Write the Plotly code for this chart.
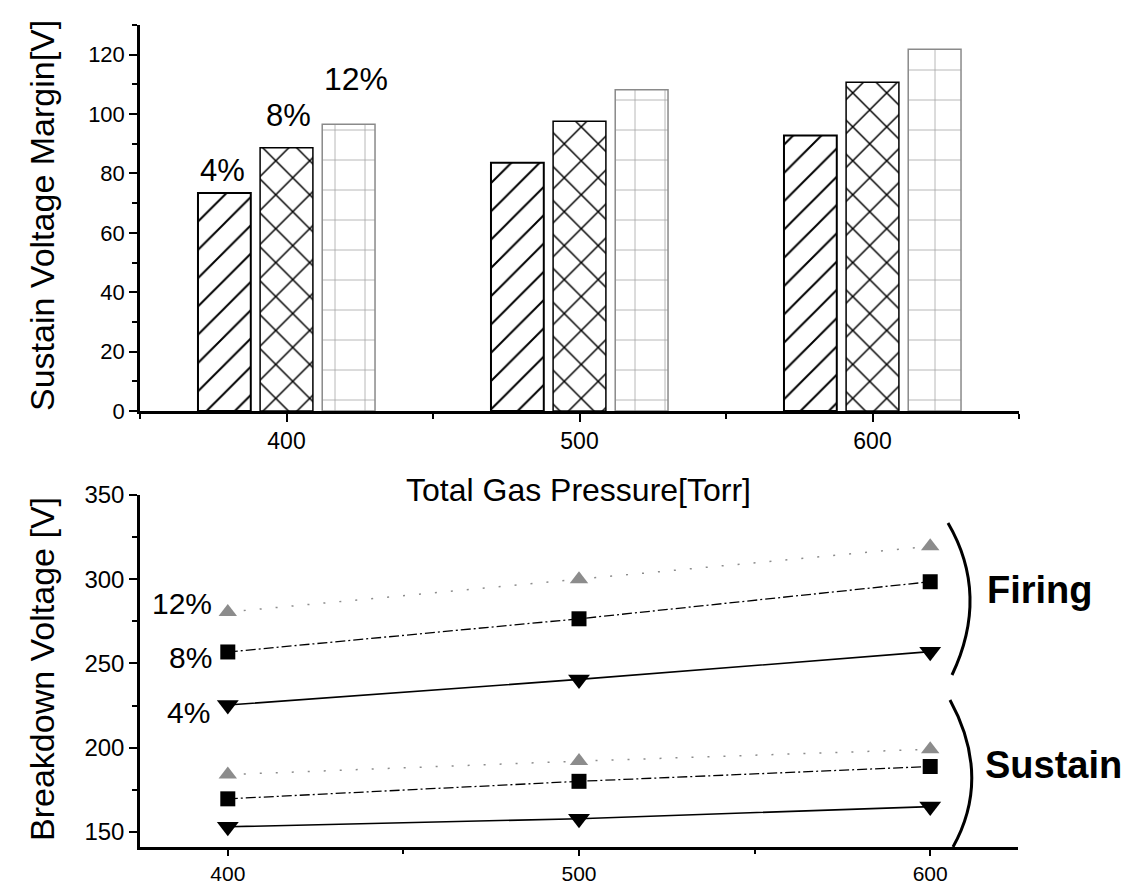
import plotly.graph_objects as go

# ---- data ----
pressure = [400, 500, 600]
margin_4 = [73.4, 83.6, 92.8]
margin_8 = [88.7, 97.6, 110.7]
margin_12 = [96.6, 108.2, 121.8]

firing_4 = [225.3, 240.5, 257.0]
firing_8 = [256.8, 276.5, 298.5]
firing_12 = [280.5, 300.0, 319.5]
sustain_4 = [153.0, 157.8, 165.0]
sustain_8 = [169.6, 180.0, 188.8]
sustain_12 = [184.0, 192.0, 199.0]

pct_labels = ["4%", "8%", "12%"]

W, H = 1144, 887
FONT = "Liberation Sans, Arial, sans-serif"


def px(x):
    return x / W


def py(y):
    return 1 - y / H


fig = go.Figure()

# ---- top bar chart ----
fig.add_trace(go.Bar(
    x=pressure, y=margin_4, name="4%", xaxis="x", yaxis="y",
    marker=dict(color="white", line=dict(color="black", width=2),
                pattern=dict(shape="/", fgcolor="black", bgcolor="white",
                             size=20, solidity=0.1, fillmode="replace")),
))
fig.add_trace(go.Bar(
    x=pressure, y=margin_8, name="8%", xaxis="x", yaxis="y",
    marker=dict(color="white", line=dict(color="black", width=1.5),
                pattern=dict(shape="x", fgcolor="black", bgcolor="white",
                             size=24, solidity=0.12, fillmode="replace")),
))
fig.add_trace(go.Bar(
    x=pressure, y=margin_12, name="12%", xaxis="x", yaxis="y",
    marker=dict(color="white", line=dict(color="#8a8a8a", width=1.5),
                pattern=dict(shape="+", fgcolor="#a0a0a0", bgcolor="white",
                             size=30, solidity=0.05, fillmode="replace")),
))

# ---- bottom line chart ----
def add_series(yvals, symbol, color, size, dash, lwidth):
    fig.add_trace(go.Scatter(
        x=pressure, y=yvals, mode="lines+markers", xaxis="x2", yaxis="y2",
        line=dict(color=color, width=lwidth, dash=dash),
        marker=dict(symbol=symbol, color=color, size=size, line=dict(width=0)),
    ))

gray = "#8c8c8c"
add_series(firing_12, "triangle-up", gray, 16, "2px,14px", 1.5)
add_series(firing_8, "square", "black", 15, "10px,3px,2px,3px", 1.3)
add_series(firing_4, "triangle-down", "black", 19, "solid", 1.6)
add_series(sustain_12, "triangle-up", gray, 16, "2px,14px", 1.5)
add_series(sustain_8, "square", "black", 15, "10px,3px,2px,3px", 1.3)
add_series(sustain_4, "triangle-down", "black", 19, "solid", 1.6)

axis_common = dict(
    showgrid=False, zeroline=False, showline=True, linecolor="black",
    linewidth=2.5, ticks="outside", tickwidth=2, tickcolor="black",
    mirror=False, automargin=False,
)

fig.update_layout(
    width=W, height=H,
    margin=dict(l=0, r=0, t=0, b=0),
    paper_bgcolor="white", plot_bgcolor="white",
    showlegend=False,
    barmode="group", bargap=0.364, bargroupgap=0.15,
    font=dict(family=FONT, color="black"),
    xaxis=dict(**axis_common, ticklen=8, domain=[px(140), px(1019)], range=[350, 650],
               tick0=400, dtick=100, anchor="y",
               tickfont=dict(size=23, family=FONT),
               minor=dict(dtick=50, ticklen=5, tickwidth=2, tickcolor="black", ticks="outside")),
    yaxis=dict(**axis_common, ticklen=8, domain=[py(411), py(25)], range=[0, 130],
               tick0=0, dtick=20, anchor="x",
               tickfont=dict(size=22, family=FONT),
               minor=dict(dtick=10, ticklen=5, tickwidth=2, tickcolor="black", ticks="outside")),
    xaxis2=dict(**axis_common, ticklen=6, domain=[px(140), px(1018)], range=[375, 625],
                tick0=400, dtick=100, anchor="y2",
                tickfont=dict(size=21, family=FONT),
                minor=dict(dtick=50, ticklen=4, tickwidth=2, tickcolor="black", ticks="outside")),
    yaxis2=dict(**axis_common, ticklen=8, domain=[py(847), py(495)], range=[141, 350],
                tick0=150, dtick=50, anchor="x2",
                tickfont=dict(size=24, family=FONT),
                minor=dict(dtick=25, ticklen=5, tickwidth=2, tickcolor="black", ticks="outside")),
)

annotations = [
    dict(text="Sustain Voltage Margin[V]", x=px(42), y=py(216), textangle=-90,
         font=dict(size=34)),
    dict(text="Total Gas Pressure[Torr]", x=px(578), y=py(490), font=dict(size=32)),
    dict(text="Breakdown Voltage [V]", x=px(42), y=py(669), textangle=-90,
         font=dict(size=34)),
    dict(text=pct_labels[0], x=px(222), y=py(170), font=dict(size=31)),
    dict(text=pct_labels[1], x=px(288), y=py(115), font=dict(size=31)),
    dict(text=pct_labels[2], x=px(356), y=py(79), font=dict(size=32)),
    dict(text=pct_labels[2], x=px(214), y=py(603), xanchor="right", font=dict(size=30)),
    dict(text=pct_labels[1], x=px(214), y=py(657), xanchor="right", font=dict(size=30)),
    dict(text=pct_labels[0], x=px(212), y=py(712), xanchor="right", font=dict(size=30)),
    dict(text="<b>Firing</b>", x=px(985), y=py(590), xanchor="left", font=dict(size=38)),
    dict(text="<b>Sustain</b>", x=px(983), y=py(765), xanchor="left", font=dict(size=38)),
]
for a in annotations:
    a.setdefault("xanchor", "center")
    a.update(xref="paper", yref="paper", yanchor="middle", showarrow=False)
    a["font"].setdefault("family", FONT)
    a["font"].setdefault("color", "black")
fig.update_layout(annotations=annotations)


def bracket(p0, c, p2):
    return (f"M {px(p0[0])},{py(p0[1])} Q {px(c[0])},{py(c[1])} "
            f"{px(p2[0])},{py(p2[1])}")

fig.update_layout(shapes=[
    dict(type="path", xref="paper", yref="paper",
         path=bracket((948, 523), (990, 595), (952, 675)),
         line=dict(color="black", width=3)),
    dict(type="path", xref="paper", yref="paper",
         path=bracket((950, 700), (992, 777), (953, 847)),
         line=dict(color="black", width=3)),
])

fig.write_html("out.html", config={"displayModeBar": False},
               post_script="document.body.style.margin='0';")
